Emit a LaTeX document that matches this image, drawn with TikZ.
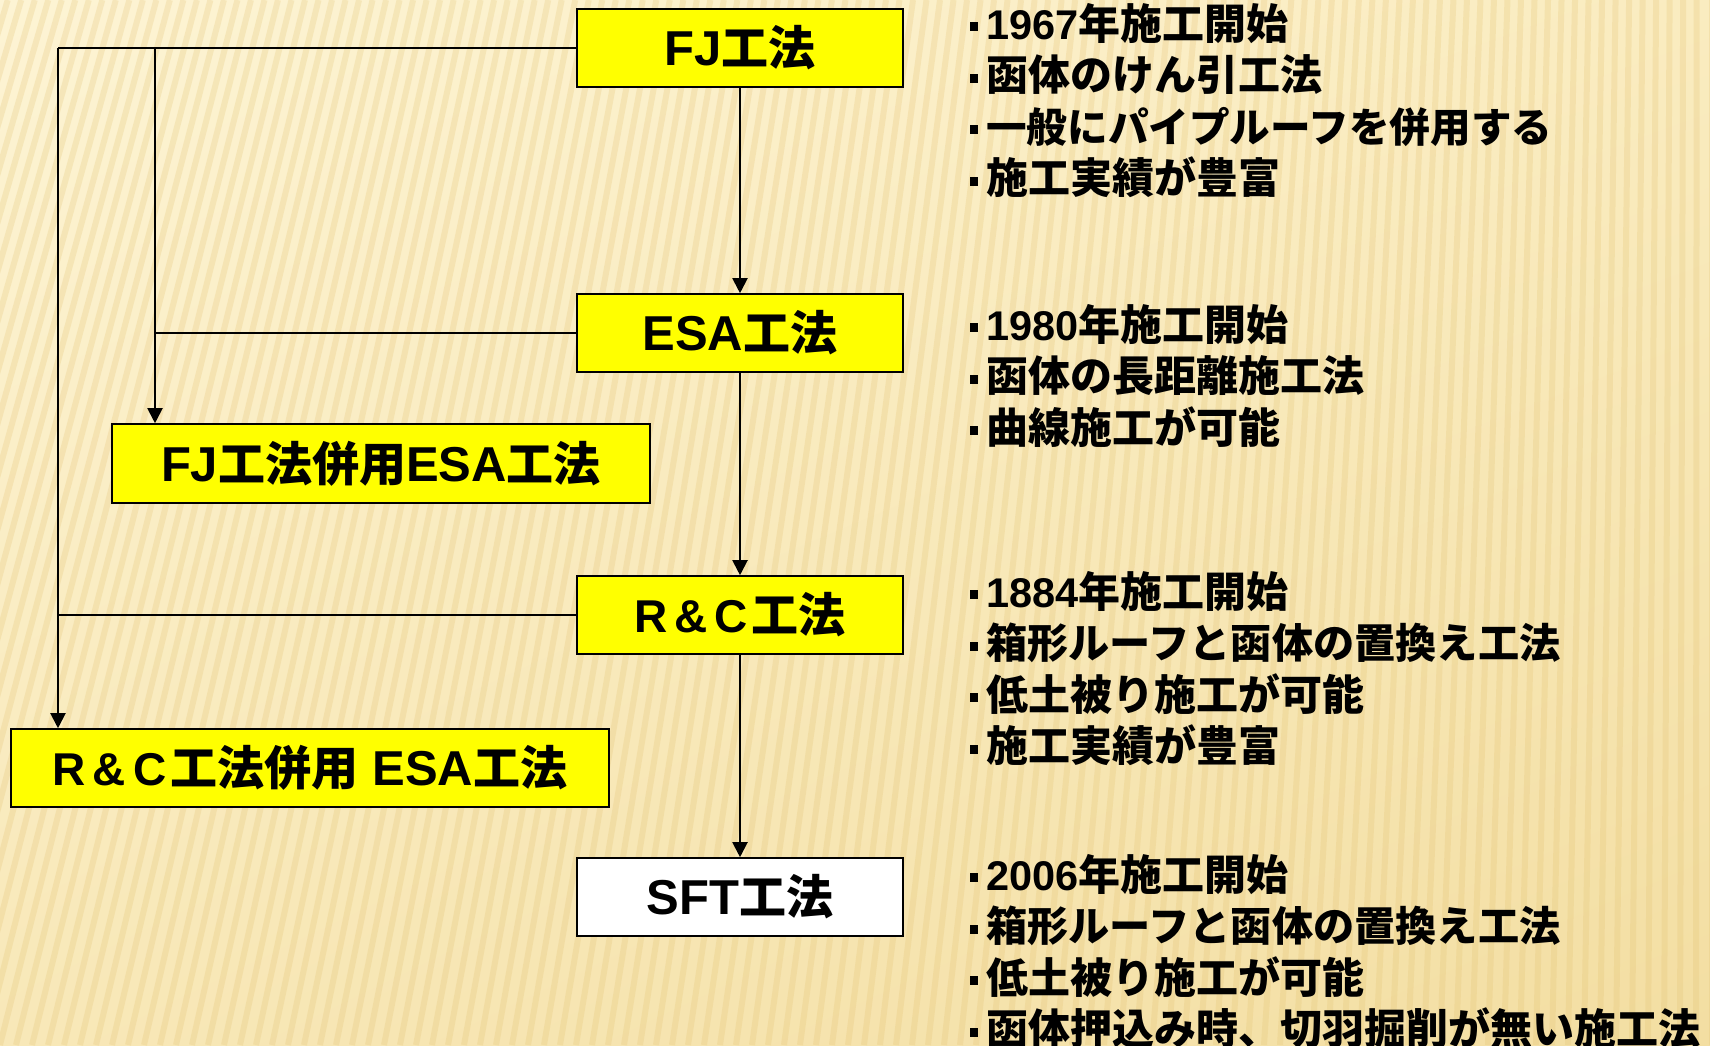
\documentclass[tikz,border=0pt]{standalone}
\usepackage{fontspec}
\usetikzlibrary{arrows.meta,shadings}
\newfontfamily\jp{Noto Sans CJK JP}
\newfontfamily\lat{Liberation Sans}
\newcommand\La[1]{{\lat\bfseries\fontsize{49}{50}\selectfont #1}}
\newcommand\Lr[1]{{\lat\bfseries\fontsize{46}{50}\selectfont #1}}
\newcommand\Ld[1]{{\lat\bfseries\fontsize{41.5}{50}\selectfont #1}}
\newcommand\bul{\makebox[24pt][l]{\hspace{8pt}\rule[8pt]{8pt}{9pt}}}
\newcommand\sz[1]{\fontsize{#1}{50}\selectfont}
\definecolor{bgA}{RGB}{253,244,212}
\definecolor{bgC}{RGB}{250,236,192}
\definecolor{bgD}{RGB}{248,232,184}
\definecolor{bgB}{RGB}{243,222,162}
\definecolor{stripe}{RGB}{226,192,110}
\definecolor{boxyellow}{RGB}{255,255,0}
\begin{document}
\begin{tikzpicture}[x=1pt,y=-1pt,
  box/.style={draw=black, line width=1.6pt, fill=boxyellow, inner sep=0pt,
    minimum height=78pt, font=\jp\bfseries\fontsize{47}{50}\selectfont},
  link/.style={draw=black, line width=2pt},
  arr/.style={link, -{Triangle[width=15pt,length=15pt]}},
  info/.style={anchor=base west, inner sep=0pt, font=\jp\bfseries\fontsize{42}{50}\selectfont}]
% background
\path[use as bounding box] (0,0) rectangle (1710,1045);
\shade[upper left=bgA, upper right=bgC, lower left=bgD, lower right=bgB] (0,0) rectangle (1710,1045);
\begin{scope}
  \clip (0,0) rectangle (1710,1045);
  \foreach \i in {0,...,130}{
    \pgfmathsetmacro\xb{-320+\i*16}
    \pgfmathsetmacro\sl{max(0,280*(1-(\xb+100)/1800))}
    \draw[stripe, line width=6pt, opacity=0.24] (\xb,1045) -- (\xb+\sl,0);
  }
\end{scope}
% boxes
\node[box, minimum width=326pt] (fj) at (740,48) {\La{FJ}工法};
\node[box, minimum width=326pt] (esa) at (740,333) {\La{ESA}工法};
\node[box, minimum width=326pt] (rc) at (740,615) {\Lr{R\kern7pt\&\kern7pt C\kern4pt}工法};
\node[box, minimum width=326pt, fill=white] (sft) at (740,897) {\La{SFT}工法};
\node[box, minimum width=538pt, minimum height=79pt] (fjesa) at (381,463.5) {\La{FJ}工法併用\La{ESA}工法};
\node[box, minimum width=598pt] (rcesa) at (310,768) {\Lr{R\kern7pt\&\kern7pt C\kern4pt}工法併用\hspace{14pt}\La{ESA}工法};
% connectors
\coordinate (jo) at (58,48);
\coordinate (ji) at (155,48);
\draw[link] (fj.west) -- (jo);
\draw[arr] (jo) -- (jo |- rcesa.north);
\draw[arr] (ji) -- (ji |- fjesa.north);
\draw[link] (esa.west) -- (esa.west -| ji);
\draw[link] (rc.west) -- (rc.west -| jo);
\draw[arr] (fj) -- (esa);
\draw[arr] (esa) -- (rc);
\draw[arr] (rc) -- (sft);
% descriptions
\node[info] (a1) at (962,39) {\bul\Ld{1967}年施工開始};
\node[info] (a2) at (962,90.5) {\bul 函体のけん引工法};
\node[info] (a3) at (962,142) {\bul\sz{40.6}一般にパイプルーフを併用する};
\node[info] (a4) at (962,193.5) {\bul 施工実績が豊富};
\node[info] (b1) at (962,340) {\bul\Ld{1980}年施工開始};
\node[info] (b2) at (962,391.5) {\bul 函体の長距離施工法};
\node[info] (b3) at (962,443) {\bul 曲線施工が可能};
\node[info] (c1) at (962,607) {\bul\Ld{1884}年施工開始};
\node[info] (c2) at (962,658.5) {\bul\sz{41.2}箱形ルーフと函体の置換え工法};
\node[info] (c3) at (962,710) {\bul 低土被り施工が可能};
\node[info] (c4) at (962,761.5) {\bul 施工実績が豊富};
\node[info] (d1) at (962,890) {\bul\Ld{2006}年施工開始};
\node[info] (d2) at (962,941.5) {\bul\sz{41.2}箱形ルーフと函体の置換え工法};
\node[info] (d3) at (962,993) {\bul 低土被り施工が可能};
\node[info] (d4) at (962,1044.5) {\bul 函体押込み時、切羽掘削が無い施工法};
\end{tikzpicture}
\end{document}
